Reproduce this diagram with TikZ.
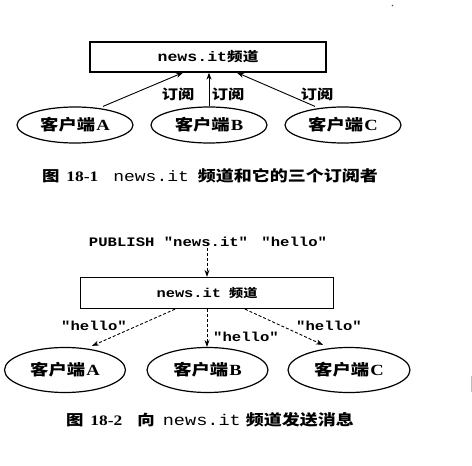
\documentclass[tikz,border=0pt]{standalone}
\usepackage{fontspec}
\setmainfont{Liberation Serif}[FakeStretch=1.2]
\setmonofont{Liberation Mono}[FakeStretch=1.2]
\newfontfamily\cjk{Noto Sans CJK SC}[FakeStretch=1.2]
\usetikzlibrary{shapes.geometric,arrows.meta}
\tikzset{
  chbox/.style={draw, line width=1.3pt, inner sep=0pt},
  client/.style={draw, ellipse, line width=1.2pt, inner sep=0pt},
  sub/.style={line width=0.9pt, -{Stealth[length=7pt,width=5pt]}},
  msg/.style={line width=0.9pt, dashed, dash pattern=on 3pt off 2pt, -{Stealth[length=7pt,width=5pt]}},
  lbl/.style={inner sep=0pt, font=\fontsize{13.5}{16}\cjk\bfseries},
  hlbl/.style={inner sep=0pt, font=\fontsize{13}{16}\ttfamily\bfseries},
  captext/.style={inner sep=0pt},
}
\newcommand\cl[1]{{\fontsize{15.3}{18}\cjk\bfseries 客户端}\hspace{1pt}{\fontsize{15.5}{18}\bfseries #1}}
\begin{document}
\begin{tikzpicture}[x=1pt,y=-1pt]
\useasboundingbox (0,0) rectangle (472,466);
% scan artifacts
\fill[black!70] (392.5,5.5) circle (0.9pt);
\fill[black!25] (470.5,376) rectangle (472,392);
% ---------- Figure 18-1 ----------
\node[chbox, minimum width=236pt, minimum height=30pt] (ch1) at (208,57)
  {{\fontsize{13.8}{18}\ttfamily\bfseries news.it}{\fontsize{13}{18}\cjk\bfseries 频道}};
\node[client, minimum width=116pt, minimum height=36pt] (a1) at (75,125) {\cl{A}};
\node[client, minimum width=116pt, minimum height=36pt] (b1) at (209,125) {\cl{B}};
\node[client, minimum width=116pt, minimum height=36pt] (c1) at (343,125) {\cl{C}};
\draw[sub] ([xshift=28pt]a1.north) -- ([xshift=-25pt]ch1.south);
\draw[sub] (b1.north) -- (b1.north |- ch1.south);
\draw[sub] ([xshift=-28pt]c1.north) -- ([xshift=29pt]ch1.south);
\node[lbl] (s1) at (178,94) {订阅};
\node[lbl] (s2) at (228,94) {订阅};
\node[lbl] (s3) at (317,94) {订阅};
\node[captext] (cap1) at (210,176)
  {{\fontsize{14.5}{16}\cjk\bfseries 图}\hspace{7pt}{\fontsize{14.5}{16}\bfseries 18-1}\hspace{15pt}{\fontsize{15}{18}\ttfamily news.it}\hspace{9pt}{\fontsize{15}{16}\cjk\bfseries 频道和它的三个订阅者}};
% ---------- Figure 18-2 ----------
\node[hlbl] (pub) at (208,242) {PUBLISH "news.it"\hspace{4pt} "hello"};
\node[chbox, minimum width=253pt, minimum height=31pt] (ch2) at (207,293)
  {{\fontsize{12.8}{18}\ttfamily\bfseries news.it}\hspace{8pt}{\fontsize{11.8}{18}\cjk\bfseries 频道}};
\node[client, minimum width=121pt, minimum height=45pt] (a2) at (65,370) {\cl{A}};
\node[client, minimum width=121pt, minimum height=45pt] (b2) at (207.5,370) {\cl{B}};
\node[client, minimum width=122pt, minimum height=45pt] (c2) at (349,370) {\cl{C}};
\draw[msg] ([yshift=4pt]pub.south -| ch2.north) -- (ch2.north);
\draw[msg] ([xshift=-32pt]ch2.south) -- ([xshift=27pt,yshift=1pt]a2.north);
\draw[msg] (ch2.south) -- (ch2.south |- b2.north);
\draw[msg] ([xshift=38pt]ch2.south) -- ([xshift=-26pt,yshift=2pt]c2.north);
\node[hlbl] (h1) at (94,326) {"hello"};
\node[hlbl] (h2) at (246,337) {"hello"};
\node[hlbl] (h3) at (329,326) {"hello"};
\node[captext] (cap2) at (210,420)
  {{\fontsize{14.5}{16}\cjk\bfseries 图}\hspace{7pt}{\fontsize{14.5}{16}\bfseries 18-2}\hspace{15pt}{\fontsize{14.5}{16}\cjk\bfseries 向}\hspace{8pt}{\fontsize{15.5}{18}\ttfamily news.it}\hspace{5pt}{\fontsize{15}{16}\cjk\bfseries 频道发送消息}};
\end{tikzpicture}
\end{document}
